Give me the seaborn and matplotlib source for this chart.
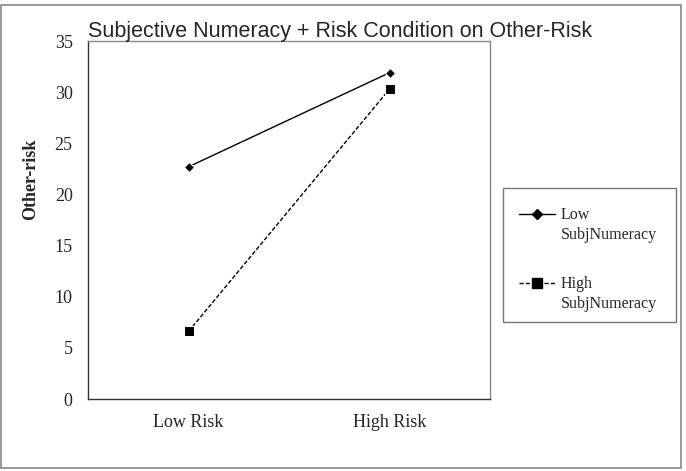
import numpy as np
import pandas as pd
import matplotlib.pyplot as plt
import seaborn as sns
from matplotlib.patches import Rectangle
from matplotlib.lines import Line2D

# data
conditions = ['Low Risk', 'High Risk']
groups = ['Low\nSubjNumeracy', 'High\nSubjNumeracy']
low_numeracy = [22.7, 31.9]
high_numeracy = [6.6, 30.3]

df = pd.DataFrame({
    'condition': conditions * 2,
    'group': [groups[0]] * 2 + [groups[1]] * 2,
    'value': low_numeracy + high_numeracy,
})
df['pos'] = df['condition'].map({c: i + 0.5 for i, c in enumerate(conditions)})

sns.set_style('white')
plt.rcParams['font.family'] = ['Liberation Serif', 'DejaVu Serif']

W, H = 686, 471
fig = plt.figure(figsize=(W / 100, H / 100), dpi=100)
ax = fig.add_axes([88 / W, 1 - 399 / H, (490 - 88) / W, (399 - 41) / H])

marker_map = {groups[0]: 'D', groups[1]: 's'}
dash_map = {groups[0]: '', groups[1]: (3, 1.5)}
size_map = {groups[0]: 5.5, groups[1]: 6.5}

sns.lineplot(data=df, x='pos', y='value', hue='group', style='group',
             markers=marker_map, dashes=dash_map,
             palette={g: 'black' for g in groups},
             linewidth=1, ax=ax, legend=False)
for line, g in zip(ax.lines, groups):
    line.set_markersize(size_map[g])

ax.set_xlim(0, len(conditions))
ax.set_ylim(0, 35)
ax.set_yticks(np.arange(0, 36, 5))
ax.set_xticks(np.arange(0, len(conditions) + 1))
ax.set_xticklabels([])
ax.set_xticks(np.arange(len(conditions)) + 0.5, minor=True)
ax.set_xticklabels(conditions, minor=True)
ax.tick_params(axis='x', which='major', direction='out', length=4, width=0.8, color='#555555')
ax.tick_params(axis='x', which='minor', length=0, pad=11, labelsize=13)
ax.tick_params(axis='y', direction='out', length=4, width=0.8, color='#555555', labelsize=13, pad=7)
for s in ax.spines.values():
    s.set_color('#888888')
    s.set_linewidth(1)
ax.spines['left'].set_color('#333333')
ax.spines['bottom'].set_color('#333333')
ax.set_xlabel('')
ax.set_ylabel('')

fig.text(31 / W, 1 - 179 / H, 'Other-risk', rotation=90, fontsize=13, fontweight='bold',
         ha='center', va='center')
fig.text(88 / W, 1 - 37 / H, 'Subjective Numeracy + Risk Condition on Other-Risk',
         fontsize=15.5, family=['Liberation Sans', 'DejaVu Sans'], va='baseline')

# legend box, drawn by hand so the handle sits on the first line of each label
fig.patches.append(Rectangle((503 / W, 1 - 322 / H), 173 / W, 134 / H, transform=fig.transFigure,
                             fill=False, edgecolor='#777777', lw=1))
for i, g in enumerate(groups):
    y0 = 214 + i * 69
    fig.lines.append(Line2D([519 / W, 555 / W], [1 - y0 / H] * 2, transform=fig.transFigure,
                            color='black', lw=1, ls='-' if i == 0 else (0, (3, 1.5))))
    fig.lines.append(Line2D([537 / W], [1 - y0 / H], transform=fig.transFigure, color='black',
                            marker=marker_map[g], ms=size_map[g], ls='none'))
    for j, part in enumerate(g.split('\n')):
        fig.text(561 / W, 1 - (y0 + 5 + j * 20) / H, part, fontsize=11.5, va='baseline')

fig.patches.append(Rectangle((1 / W, 3 / H), 680 / W, 463 / H, transform=fig.transFigure,
                             fill=False, edgecolor='#888888', lw=1.2))

fig.savefig('out.png', dpi=100)
